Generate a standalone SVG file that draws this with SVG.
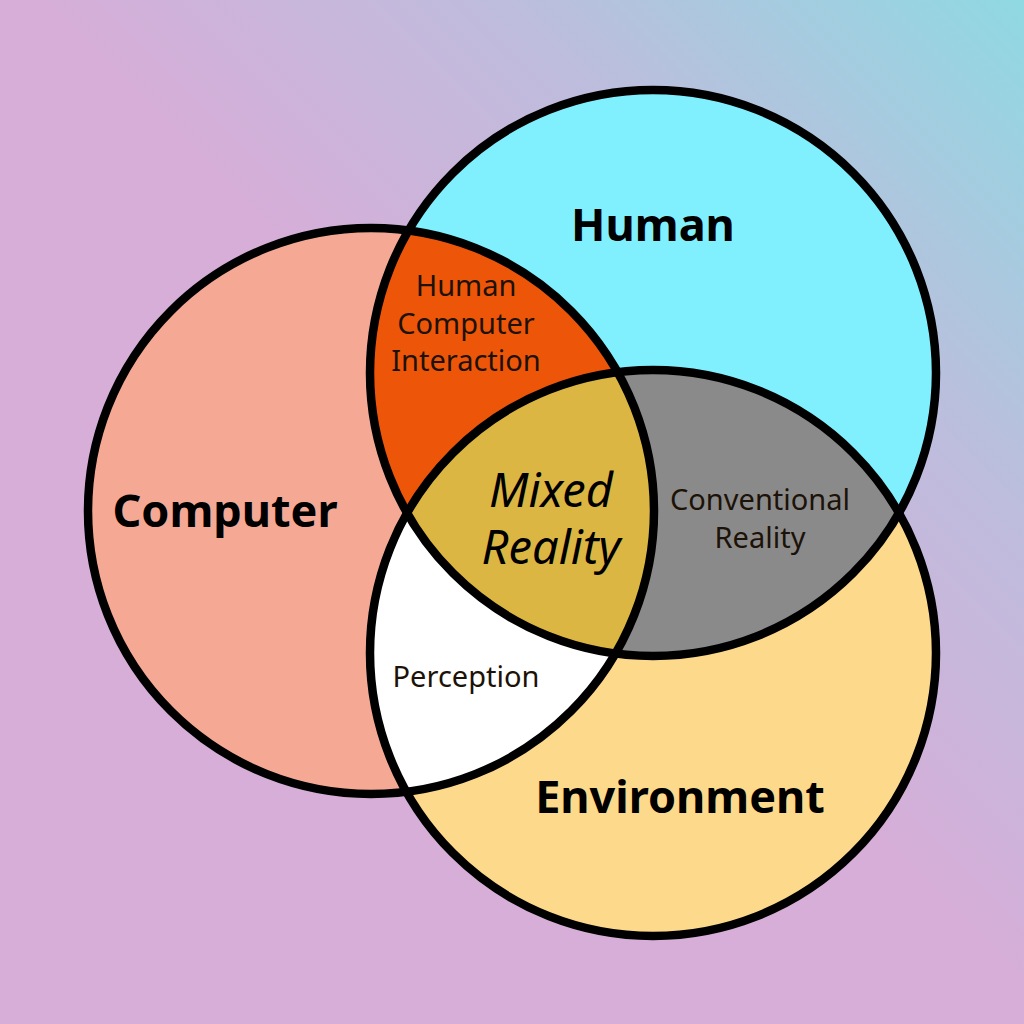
<svg xmlns="http://www.w3.org/2000/svg" width="1024" height="1024" viewBox="0 0 1024 1024">
  <defs>
    <linearGradient id="bg" x1="1" y1="0" x2="0" y2="1">
      <stop offset="0" stop-color="#8fd9e2"/>
      <stop offset="0.25" stop-color="#bdbddd"/>
      <stop offset="0.48" stop-color="#d6aed8"/>
      <stop offset="1" stop-color="#d6aed8"/>
    </linearGradient>
    <clipPath id="clipComputer"><circle cx="371" cy="511" r="283"/></clipPath>
    <clipPath id="clipHuman"><circle cx="653" cy="373" r="283"/></clipPath>
    <style>
      .ring { fill: none; stroke: #000; stroke-width: 8.5; }
      .big { font-family: "Noto Sans", "Open Sans", "Liberation Sans", sans-serif; font-weight: bold; font-size: 45px; fill: #000; text-anchor: middle; }
      .small { font-family: "Noto Sans", "Open Sans", "Liberation Sans", sans-serif; font-size: 29px; fill: #1c1208; text-anchor: middle; }
      .mixed { font-family: "Noto Sans", "Open Sans", "Liberation Sans", sans-serif; font-style: italic; font-size: 47px; fill: #000; text-anchor: middle; }
    </style>
  </defs>
  <rect width="1024" height="1024" fill="url(#bg)"/>

  <g id="computer">
    <circle cx="371" cy="511" r="283" fill="#f5a994"/>
  </g>
  <g id="human">
    <circle cx="653" cy="373" r="283" fill="#80f0fe"/>
  </g>
  <g id="environment">
    <circle cx="653" cy="653" r="283" fill="#fdd98b"/>
  </g>

  <g id="human-computer-interaction">
    <circle cx="653" cy="373" r="283" fill="#ed5509" clip-path="url(#clipComputer)"/>
  </g>
  <g id="perception">
    <circle cx="653" cy="653" r="283" fill="#ffffff" clip-path="url(#clipComputer)"/>
  </g>
  <g id="conventional-reality">
    <circle cx="653" cy="653" r="283" fill="#8a8a8a" clip-path="url(#clipHuman)"/>
  </g>
  <g id="mixed-reality">
    <g clip-path="url(#clipHuman)">
      <circle cx="653" cy="653" r="283" fill="#dcb642" clip-path="url(#clipComputer)"/>
    </g>
  </g>

  <g id="outlines">
    <circle class="ring" cx="371" cy="511" r="283"/>
    <circle class="ring" cx="653" cy="373" r="283"/>
    <circle class="ring" cx="653" cy="653" r="283"/>
  </g>

  <g id="labels">
    <text class="big" x="653" y="241">Human</text>
    <text class="big" x="225" y="527">Computer</text>
    <text class="big" x="680" y="813">Environment</text>
    <text class="small" x="466" y="296">Human</text>
    <text class="small" x="466" y="334">Computer</text>
    <text class="small" x="466" y="371">Interaction</text>
    <text class="small" x="760" y="510">Conventional</text>
    <text class="small" x="760" y="548">Reality</text>
    <text class="small" x="466" y="687">Perception</text>
    <text class="mixed" x="551" y="507">Mixed</text>
    <text class="mixed" x="551" y="564">Reality</text>
  </g>
</svg>
